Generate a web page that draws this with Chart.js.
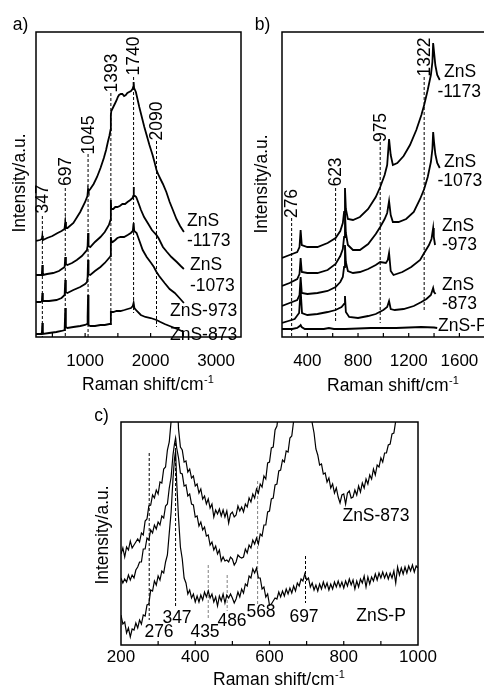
<!DOCTYPE html>
<html><head><meta charset="utf-8">
<script src="https://cdn.jsdelivr.net/npm/chart.js@4.4.0/dist/chart.umd.min.js"></script>
<style>
html,body{margin:0;padding:0;background:#fff;width:484px;height:688px;overflow:hidden;position:relative;}
canvas{position:absolute;left:0;top:0;}
</style></head><body>
<canvas id="ca" width="484" height="688"></canvas>
<canvas id="cb" width="500" height="688"></canvas>
<canvas id="cc" width="484" height="688"></canvas>
<script>
// ---------------- DATA ----------------
// Panel a) Raman shift (cm-1) and intensity (a.u.)
const shiftA1173 = [251,310,340,347,355,420,500,580,640,685,697,708,730,821,925,1000,1035,1045,1055,1079,1130,1182,1235,1286,1320,1347,1370,1388,1393,1400,1430,1460,1482,1500,1518,1545,1569,1595,1621,1645,1672,1700,1724,1734,1740,1748,1775,1827,1904,1982,2030,2059,2090,2120,2150,2188,2240,2291,2340,2394,2450,2508];
const intA1173   = [96,97,98,101,97,99,101,104,106,108,115,109,109,114,125,135,141,148,146,148,153,160,169,179,187,195,201,207,222,226,230,234,237,240,242,243,243,241,242,244,245,246,248,250,255,249,245,230,210,192,182,175,167,162,158,153,145,135,127,118,111,105];
const shiftA1073 = [251,320,340,347,355,420,512,600,687,697,707,729,800,873,950,1028,1038,1045,1052,1079,1150,1234,1300,1363,1388,1393,1398,1430,1460,1492,1530,1569,1610,1647,1690,1724,1735,1740,1746,1780,1820,1853,1900,1956,2020,2060,2090,2120,2188,2250,2317,2400,2460,2508];
const intA1073   = [62,62,63,72,62,63,64,66,70,80,73,72,74,77,81,87,91,104,91,90,95,100,105,112,117,137,128,128,130,130,131,133,133,135,137,139,141,150,142,140,133,127,120,114,107,104,102,99,90,85,80,75,71,68];
const shiftA973  = [251,320,340,347,355,450,563,640,687,697,706,729,820,925,1000,1028,1038,1045,1052,1079,1150,1234,1300,1378,1388,1393,1400,1420,1460,1492,1540,1595,1650,1698,1728,1740,1750,1786,1830,1879,1940,2008,2050,2090,2130,2214,2290,2369,2440,2508];
const intA973    = [35,35,36,44,36,36,37,39,42,57,45,44,47,50,53,55,60,77,63,62,66,70,74,80,81,100,96,95,97,99,100,100,102,104,106,114,106,104,96,87,80,74,70,65,61,54,48,44,39,34];
const shiftA873  = [251,320,340,347,355,450,560,640,687,697,706,729,820,925,1000,1030,1038,1045,1052,1079,1150,1234,1300,1370,1385,1393,1400,1430,1480,1540,1600,1650,1700,1728,1740,1752,1790,1850,1920,2000,2090,2150,2214,2290,2369,2440,2508];
const intA873    = [3,3,4,14,3,4,5,6,7,29,10,9,10,11,12,13,20,42,12,11,11,12,12,13,13,25,25,25,26,26,27,28,29,31,34,29,26,22,20,19,17,15,13,11,9,7,5];
const namesA     = ['ZnS-1173','ZnS-1073','ZnS-973','ZnS-873'];
const peaksA     = [347,697,1045,1393,1740,2090];
const peakTopA   = [121,149,183,244,260,196];
const peakBotA   = [0,0,0,12,24,10];
const ticksA     = [500,1000,1500,2000,2500,3000];
const tickLabelsA= [1000,2000,3000];

// Panel b)
const shiftB1173 = [200,260,320,338,347,356,400,480,560,623,660,680,690,697,704,720,760,815,880,940,975,1010,1030,1045,1058,1075,1110,1160,1210,1260,1300,1322,1350,1375,1387,1393,1400,1410,1425,1445];
const intB1173   = [79,82,85,90,107,92,90,90,94,99,106,114,125,149,128,118,117,120,128,140,150,162,172,198,182,172,174,181,192,207,222,232,247,262,275,294,285,272,262,257];
const shiftB1073 = [200,260,320,338,347,356,400,480,560,623,660,680,690,697,704,720,760,815,880,940,975,1010,1030,1045,1058,1075,1120,1180,1240,1290,1322,1350,1375,1387,1393,1400,1410,1425,1445];
const intB1073   = [51,54,58,63,79,65,64,64,67,73,81,88,100,125,104,92,87,87,93,103,110,118,124,136,122,115,115,118,125,138,148,160,175,188,205,195,183,174,169];
const shiftB973  = [200,260,320,338,347,356,400,480,560,623,660,680,690,697,704,720,760,815,880,940,975,1020,1035,1045,1058,1080,1150,1220,1290,1322,1360,1380,1393,1398,1408];
const intB973    = [31,34,37,42,60,44,43,44,46,50,55,60,70,92,75,66,64,65,68,72,75,74,77,84,66,62,65,70,77,84,92,98,109,100,92];
const shiftB873  = [200,250,300,335,347,358,400,480,560,623,670,690,697,704,730,800,880,940,1000,1030,1045,1058,1090,1160,1240,1300,1340,1375,1393,1400,1412];
const intB873    = [14,16,18,24,47,24,22,23,25,27,30,33,41,25,20,19,21,23,27,30,36,28,27,28,31,35,38,42,49,45,43];
const shiftBP    = [200,280,320,340,347,355,380,450,530,570,610,700,800,900,1000,1100,1200,1300,1400,1425];
const intBP      = [8,8,9,11,12,10,8,8,8,9,8,8,8.5,9,9,9,9.5,10,9.5,9];
const peaksB     = [276,623,975,1322];
const peakTopB   = [119,149,195,260];
const peakBotB   = [0,15,14,27];
const ticksB     = [400,600,800,1000,1200,1400,1600,1800];
const tickLabelsB= [400,800,1200,1600];

// Panel c)
const shiftC = [200,205,210,215,220,225,230,235,240,245,250,255,260,265,270,275,280,285,290,295,300,305,310,315,320,325,330,335,340,
  344,347,350,
  355,360,365,370,375,380,385,390,395,400,405,410,415,420,425,430,435,440,445,450,455,460,465,470,475,480,485,490,495,500,
  505,510,515,520,525,530,535,540,545,550,555,560,565,570,575,580,585,590,595,600,605,610,615,620,625,630,635,640,645,650,
  655,660,665,670,675,680,685,690,695,700,705,710,715,720,725,730,735,740,745,750,755,760,765,770,775,780,785,790,795,800,
  805,810,815,820,825,830,835,840,845,850,855,860,865,870,875,880,885,890,895,900,905,910,915,920,925,930,935,940,945,950,
  955,960,965,970,975,980,985,990,995,1000];
const intCtop = [91,97,88,98,95,104,97,100,103,106,103,112,110,124,126,139,140,150,147,155,151,163,162,176,178,195,203,224,240,
  252,262,258,
  216,198,195,183,184,173,176,167,169,159,
  161,152,156,146,149,141,146,137,141,128,
  135,131,136,129,135,128,134,122,131,133,
  128,130,139,134,138,133,141,138,147,143,
  151,147,156,152,161,158,169,166,182,183,
  197,198,215,219,234,228,245,250,260,260,
  260,260,260,260,260,260,260,260,260,260,
  260,240,222,212,196,190,180,181,171,172,
  163,167,157,161,152,157,148,142,150,151,
  141,152,154,147,148,155,150,159,153,162,
  157,166,161,170,166,176,170,180,178,187,
  183,192,192,200,201,211,212,224,232,250,
  null,null,null,null,null,null,null,null,null,null];
const intCmid = [67,62,66,63,70,65,70,67,75,78,83,83,96,96,107,105,115,112,120,116,123,120,129,127,139,141,157,168,190,
  201,207,197,
  187,172,171,159,160,149,151,141,140,128,
  129,119,123,115,118,109,110,100,103,95,
  99,91,95,84,88,84,85,83,88,86,
  80,83,90,88,87,88,96,92,100,97,
  105,101,107,101,111,109,120,120,133,134,
  146,147,160,161,174,175,185,183,194,193,
  207,209,224,230,245,260,null,null,null,null,
  null,null,null,null,null,null,null,null,null,null,
  null,null,null,null,null,null,null,null,null,null,
  null,null,null,null,null,null,null,null,null,null,
  null,null,null,null,null,null,null,null,null,null,
  null,null,null,null,null,null,null,null,null,null,
  null,null,null,null,null,null,null,null,null,null];
const intCP   = [30,21,23,12,17,8,16,15,22,17,25,21,30,29,40,41,55,54,64,60,69,65,74,72,83,90,112,133,166,
  186,194,163,
  127,98,86,67,62,51,55,47,51,43,
  49,43,50,45,53,48,54,47,51,43,
  48,39,49,44,51,42,50,47,51,47,
  42,46,53,48,56,52,61,59,69,67,
  76,72,77,67,67,56,58,48,51,40,
  41,44,47,46,53,48,54,49,56,51,
  57,52,59,54,62,59,66,64,71,65,
  67,58,62,55,60,54,61,56,63,57,
  62,55,61,56,63,58,64,58,63,57,
  64,59,66,60,65,56,64,58,66,62,
  69,58,68,61,68,64,71,65,72,67,
  73,67,72,66,72,67,74,62,78,70,
  77,71,78,72,79,74,80,73,79,77];
const peaksC     = [276,347,435,486,568,697];
const peakTopC   = [192,207,80,70,164,89];
const peakBotC   = [25,37,27,34,40,42];
const peakGrayC  = [false,false,true,true,true,false];
const ticksC     = [300,400,500,600,700,800,900];
const tickLabelsC= [200,400,600,800,1000];

const xTitleText = 'Raman shift/cm';
const xTitleSup  = '-1';
const yTitleText = 'Intensity/a.u.';

// ---------------- LAYOUT / STYLE ----------------
const FONT = '"Liberation Sans", Arial, Helvetica, sans-serif';
const TXT = 17.5, TICK = 17;

const decorPlugin = {
  id: 'decor',
  afterDatasetsDraw(chart, args, o) {
    const ctx = chart.ctx, a = chart.chartArea, xs = chart.scales.x;
    ctx.save();
    ctx.fillStyle = '#000'; ctx.strokeStyle = '#000';
    ctx.lineWidth = 1.5;
    ctx.strokeRect(a.left, a.top, a.right - a.left, a.bottom - a.top);
    ctx.lineWidth = 1.2;
    ctx.beginPath();
    o.ticks.forEach(v => { const p = xs.getPixelForValue(v); ctx.moveTo(p, a.bottom); ctx.lineTo(p, a.bottom - 4); });
    ctx.stroke();
    ctx.font = TICK + 'px ' + FONT; ctx.textAlign = 'center'; ctx.textBaseline = 'middle';
    o.tickLabels.forEach(v => ctx.fillText(String(v), xs.getPixelForValue(v), o.tickLabelY));
    // x title with superscript
    ctx.textAlign = 'left';
    ctx.font = TXT + 'px ' + FONT;
    ctx.fillText(xTitleText, o.xTitle.left, o.xTitle.y);
    const w = ctx.measureText(xTitleText).width;
    ctx.font = '11px ' + FONT;
    ctx.fillText(xTitleSup, o.xTitle.left + w + 0.5, o.xTitle.y - 5.5);
    // y title
    ctx.font = TXT + 'px ' + FONT; ctx.textAlign = 'center';
    ctx.save(); ctx.translate(o.yTitle.x, o.yTitle.y); ctx.rotate(-Math.PI / 2);
    ctx.fillText(yTitleText, 0, 0); ctx.restore();
    // panel letter
    ctx.fillText(o.panel.t, o.panel.x, o.panel.y);
    // rotated peak labels
    (o.rotPeaks || []).forEach((v, i) => {
      ctx.save(); ctx.translate(xs.getPixelForValue(v) + 1, o.rotPeakY[i]); ctx.rotate(-Math.PI / 2);
      ctx.fillText(String(v), 0, 0); ctx.restore();
    });
    // horizontal peak labels
    (o.flatPeaks || []).forEach((v, i) => ctx.fillText(String(v), o.flatPeakPos[i][0], o.flatPeakPos[i][1]));
    // series labels
    (o.texts || []).forEach(t => { ctx.textAlign = t.align || 'left'; ctx.fillText(t.t, t.x, t.y); });
    ctx.restore();
  }
};

function series(xs, ys, w) {
  return { data: xs.map((x, i) => ({ x: x, y: ys[i] })), borderColor: '#000', borderWidth: w,
           pointRadius: 0, fill: false, tension: 0, spanGaps: false };
}
function guide(v, top, bot, color) {
  return { data: [{ x: v, y: top }, { x: v, y: bot }], borderColor: color, borderWidth: 1,
           borderDash: [3, 2], pointRadius: 0, fill: false, tension: 0 };
}
function makeChart(id, datasets, xmin, xmax, ymax, pad, decor) {
  return new Chart(document.getElementById(id), {
    type: 'line',
    data: { datasets: datasets },
    options: {
      responsive: false, animation: false, devicePixelRatio: 1, events: [],
      layout: { padding: pad },
      scales: {
        x: { type: 'linear', min: xmin, max: xmax, display: false },
        y: { type: 'linear', min: 0, max: ymax, display: false }
      },
      plugins: { legend: { display: false }, tooltip: { enabled: false }, decor: decor }
    },
    plugins: [decorPlugin]
  });
}

// Panel a
makeChart('ca',
  [series(shiftA1173, intA1173, 1.8), series(shiftA1073, intA1073, 1.8),
   series(shiftA973, intA973, 1.8), series(shiftA873, intA873, 1.8)]
    .concat(peaksA.map((v, i) => guide(v, peakTopA[i], peakBotA[i], '#000'))),
  250, 3380, 305, { left: 36, top: 32, right: 243, bottom: 351 },
  { ticks: ticksA, tickLabels: tickLabelsA, tickLabelY: 361,
    xTitle: { left: 82, y: 385 }, yTitle: { x: 20, y: 183 }, panel: { t: 'a)', x: 20.5, y: 25 },
    rotPeaks: peaksA, rotPeakY: [199, 171.5, 135, 73, 56, 121],
    texts: [
      { t: 'ZnS', x: 187, y: 221.5 }, { t: '-1173', x: 187, y: 241 },
      { t: 'ZnS', x: 190, y: 265 }, { t: '-1073', x: 190, y: 286 },
      { t: namesA[2], x: 170, y: 311.5 }, { t: namesA[3], x: 170, y: 335 }
    ] });

// Panel b
makeChart('cb',
  [series(shiftB1173, intB1173, 1.8), series(shiftB1073, intB1073, 1.8),
   series(shiftB973, intB973, 1.8), series(shiftB873, intB873, 1.8), series(shiftBP, intBP, 1.8)]
    .concat(peaksB.map((v, i) => guide(v, peakTopB[i], peakBotB[i], '#000'))),
  200, 1810, 305, { left: 282, top: 32, right: 14, bottom: 351 },
  { ticks: ticksB, tickLabels: tickLabelsB, tickLabelY: 361,
    xTitle: { left: 327, y: 386 }, yTitle: { x: 262, y: 184 }, panel: { t: 'b)', x: 262.5, y: 25 },
    rotPeaks: peaksB, rotPeakY: [203.5, 172, 127.5, 57],
    texts: [
      { t: 'ZnS', x: 444, y: 72 }, { t: '-1173', x: 437.5, y: 92 },
      { t: 'ZnS', x: 444, y: 162 }, { t: '-1073', x: 437.5, y: 181 },
      { t: 'ZnS', x: 442, y: 226.5 }, { t: '-973', x: 442, y: 245 },
      { t: 'ZnS', x: 442, y: 285 }, { t: '-873', x: 442, y: 304 },
      { t: 'ZnS-P', x: 438, y: 326 }
    ] });

// Panel c
makeChart('cc',
  [series(shiftC, intCtop, 1.2), series(shiftC, intCmid, 1.2), series(shiftC, intCP, 1.2)]
    .concat(peaksC.map((v, i) => guide(v, peakTopC[i], peakBotC[i], peakGrayC[i] ? '#808080' : '#000'))),
  200, 1000, 223, { left: 121, top: 422, right: 66, bottom: 43 },
  { ticks: ticksC, tickLabels: tickLabelsC, tickLabelY: 657,
    xTitle: { left: 213, y: 680 }, yTitle: { x: 103.5, y: 535 }, panel: { t: 'c)', x: 101.5, y: 416.5 },
    flatPeaks: peaksC, flatPeakPos: [[159, 632.5], [177, 618], [205, 632.5], [232, 621], [261, 612], [304, 617]],
    texts: [
      { t: 'ZnS-873', x: 376, y: 516, align: 'center' },
      { t: 'ZnS-P', x: 381, y: 616, align: 'center' }
    ] });
</script>
</body></html>
